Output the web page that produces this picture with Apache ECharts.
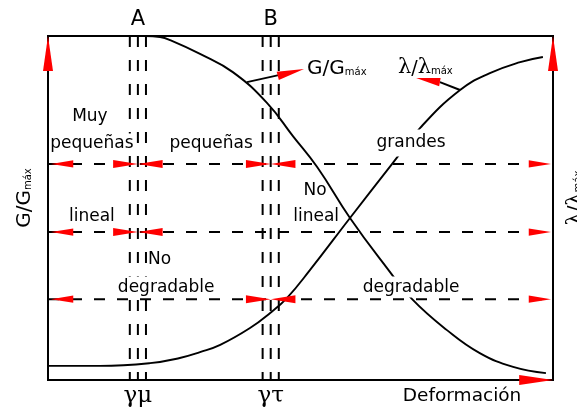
<!DOCTYPE html>
<html><head><meta charset="utf-8">
<script src="https://cdn.jsdelivr.net/npm/echarts/dist/echarts.min.js"></script>
<style>html,body{margin:0;padding:0;background:#fff}#c{width:577px;height:409px}</style>
</head><body><div id="c"></div>
<script>
// ---- data (x: deformation 0..100, y: normalised ratio 0..100) ----
const gX   = [0, 19.2, 22.2, 24.2, 30.1, 36.6, 43.4, 48.5, 53.3, 59.8, 67.1, 72.1, 79.0, 85.5, 92.1, 98.6];
const gY   = [100, 100, 99.7, 98.8, 94.8, 89.5, 80.5, 70.9, 61.9, 47.1, 32.6, 23.5, 14.5, 7.8, 3.8, 2.0];
const lamX = [0, 10.3, 20.2, 26.1, 30.1, 34.1, 40.0, 44.0, 47.3, 51.9, 59.8, 68.3, 73.7, 81.6, 87.5, 93.5, 98.0];
const lamY = [4.1, 4.1, 4.9, 6.4, 8.1, 10.2, 15.1, 19.5, 23.8, 32.0, 47.1, 63.1, 73.3, 84.3, 89.2, 92.4, 93.9];
const levelY  = [62.8, 43.0, 23.5];          // horizontal dashed levels
const strainA = [16.2, 17.8, 19.4];          // γμ threshold (A)
const strainB = [42.5, 44.1, 45.7];          // γτ threshold (B)
const centerA = 17.8, centerB = 44.1;
const levelsAtA = [62.8, 43.0];
const levelsAtB = [62.8, 23.5];
// leader lines [x0,y0,x1,y1]
const gLeader   = [39.4, 86.6, 45.9, 88.7];
const lamLeader = [81.6, 84.3, 77.6, 86.6];
// arrows [tipX, tipY, baseX, baseY]
const cornerArrows = [[0, 100, 0, 89.8], [100, 100, 100, 89.8], [100, 0, 93.3, 0]];
const leaderArrows = [[50.7, 90.4, 45.5, 88.4], [72.9, 87.8, 77.6, 86.6]];
// labels
const plainText  = ['Muy', 'pequeñas', 'No', 'lineal', 'lineal'];
const plainX     = [8.3, 32.3, 52.9, 53.1, 8.7];
const plainY     = [76.5, 68.6, 55.2, 47.4, 47.4];
const maskText   = ['pequeñas', 'grandes', 'No', 'degradable', 'degradable'];
const maskX      = [8.7, 71.9, 22.1, 23.4, 71.9];
const maskY      = [68.6, 68.9, 34.9, 27.0, 27.0];
const letterText = ['A', 'B'];
const greekText  = ['γμ', 'γτ'];
const topY = 104.9, bottomY = -4.65;
const xTitle = 'Deformación', xTitleX = 82.0;
const gLabelX = 51.3, gLabelY = 90.4, lamLabelX = 69.3, lamLabelY = 90.7;
const sideY = 52.9, leftSideX = -4.55, rightSideX = 104.4;

// ---- build ----
const zip = (a, b) => a.map((v, i) => [v, b[i]]);
const series = [];
const dashV = {color: '#000', width: 2, type: [11, 13]};
const dashH = {color: '#000', width: 2, type: [11, 12]};
[...strainA, ...strainB].forEach(x => series.push({type: 'line', data: [[x, 100], [x, 0]], symbol: 'none', lineStyle: dashV, z: 2, silent: true}));
levelY.forEach(y => series.push({type: 'line', data: [[0, y], [100, y]], symbol: 'none', lineStyle: dashH, z: 2, silent: true}));
series.push({type: 'line', data: zip(gX, gY), symbol: 'none', smooth: 0.45, lineStyle: {color: '#000', width: 1.9}, z: 3});
series.push({type: 'line', data: zip(lamX, lamY), symbol: 'none', smooth: 0.45, lineStyle: {color: '#000', width: 1.9}, z: 3});
[gLeader, lamLeader].forEach(l => series.push({type: 'line', data: [[l[0], l[1]], [l[2], l[3]]], symbol: 'none', lineStyle: {color: '#000', width: 1.9}, z: 3}));

function arrowSeries(data, hw) {
  return {
    type: 'custom', coordinateSystem: 'cartesian2d', data: data, z: 6, silent: true, clip: false,
    encode: {x: [0, 2], y: [1, 3]},
    renderItem: function (params, api) {
      const t = api.coord([api.value(0), api.value(1)]);
      const b = api.coord([api.value(2), api.value(3)]);
      const dx = t[0] - b[0], dy = t[1] - b[1], L = Math.hypot(dx, dy) || 1;
      const nx = -dy / L * hw, ny = dx / L * hw;
      return {type: 'polygon', shape: {points: [t, [b[0] + nx, b[1] + ny], [b[0] - nx, b[1] - ny]]}, style: {fill: '#ff0000'}};
    }
  };
}
const lineArrows = [];
levelY.forEach(y => { lineArrows.push([0.6, y, 5.0, y]); lineArrows.push([99.6, y, 95.2, y]); });
const bowArrows = [];
levelsAtA.forEach(y => { bowArrows.push([centerA, y, centerA - 4.9, y]); bowArrows.push([centerA, y, centerA + 4.9, y]); });
levelsAtB.forEach(y => { bowArrows.push([centerB, y, centerB - 4.9, y]); bowArrows.push([centerB, y, centerB + 4.9, y]); });
series.push(arrowSeries(cornerArrows, 5));
series.push(arrowSeries(lineArrows, 3.6));
series.push(arrowSeries(bowArrows, 4));
series.push(arrowSeries(leaderArrows, 4.2));

const SANS = 'DejaVu Sans', SERIF = 'DejaVu Serif';
function textSeries(xs, ys, texts, styleFn) {
  return {
    type: 'custom', coordinateSystem: 'cartesian2d', data: zip(xs, ys), z: 10, silent: true, clip: false,
    encode: {x: 0, y: 1},
    renderItem: function (params, api) {
      const p = api.coord([api.value(0), api.value(1)]);
      const s = styleFn(texts[params.dataIndex], params.dataIndex);
      return {type: 'text', x: p[0], y: p[1], rotation: s.rotation || 0,
        style: Object.assign({text: texts[params.dataIndex], fill: '#000', align: 'center', verticalAlign: 'middle'}, s.style)};
    }
  };
}
series.push(textSeries(plainX, plainY, plainText, () => ({style: {fontSize: 17, fontFamily: SANS}})));
series.push(textSeries(maskX, maskY, maskText, (t, i) => ({style: {fontSize: 17, fontFamily: SANS, backgroundColor: '#fff', padding: i === 1 ? [1, 1, 9, 1] : [1, 1, 3, 1]}})));
series.push(textSeries([centerA, centerB], [topY, topY], letterText, () => ({style: {fontSize: 21, fontFamily: SANS}})));
series.push(textSeries([centerA, centerB], [bottomY, bottomY], greekText, () => ({style: {fontSize: 23, fontFamily: SERIF}})));
series.push(textSeries([xTitleX], [bottomY], [xTitle], () => ({style: {fontSize: 18.5, fontFamily: SANS}})));
const gRich = {a: {fontSize: 20, fontFamily: SANS, verticalAlign: 'bottom'}, b: {fontSize: 10, fontFamily: SANS, verticalAlign: 'bottom', padding: [0, 0, 2, 0]}};
const lRich = {l: {fontSize: 21, fontFamily: SERIF, verticalAlign: 'bottom'}, a: {fontSize: 19, fontFamily: SANS, verticalAlign: 'bottom'}, b: {fontSize: 10, fontFamily: SANS, verticalAlign: 'bottom', padding: [0, 0, 2, 0]}};
series.push(textSeries([gLabelX, leftSideX], [gLabelY, sideY], ['{a|G/G}{b|máx}', '{a|G/G}{b|máx}'], (t, i) => ({rotation: i === 1 ? Math.PI / 2 : 0, style: {rich: gRich, align: i === 1 ? 'center' : 'left'}})));
series.push(textSeries([lamLabelX, rightSideX], [lamLabelY, sideY], ['{l|λ}{a|/}{l|λ}{b|máx}', '{l|λ}{a|/}{l|λ}{b|máx}'], (t, i) => ({rotation: i === 1 ? Math.PI / 2 : 0, style: {rich: lRich, align: i === 1 ? 'center' : 'left'}})));

const chart = echarts.init(document.getElementById('c'), null, {renderer: 'canvas'});
chart.setOption({
  animation: false,
  backgroundColor: '#fff',
  grid: {left: 48, right: 24, top: 36, bottom: 29, show: true, borderColor: '#000', borderWidth: 2, backgroundColor: 'transparent'},
  xAxis: {type: 'value', min: 0, max: 100, show: false},
  yAxis: {type: 'value', min: 0, max: 100, show: false},
  series: series
});
</script></body></html>
